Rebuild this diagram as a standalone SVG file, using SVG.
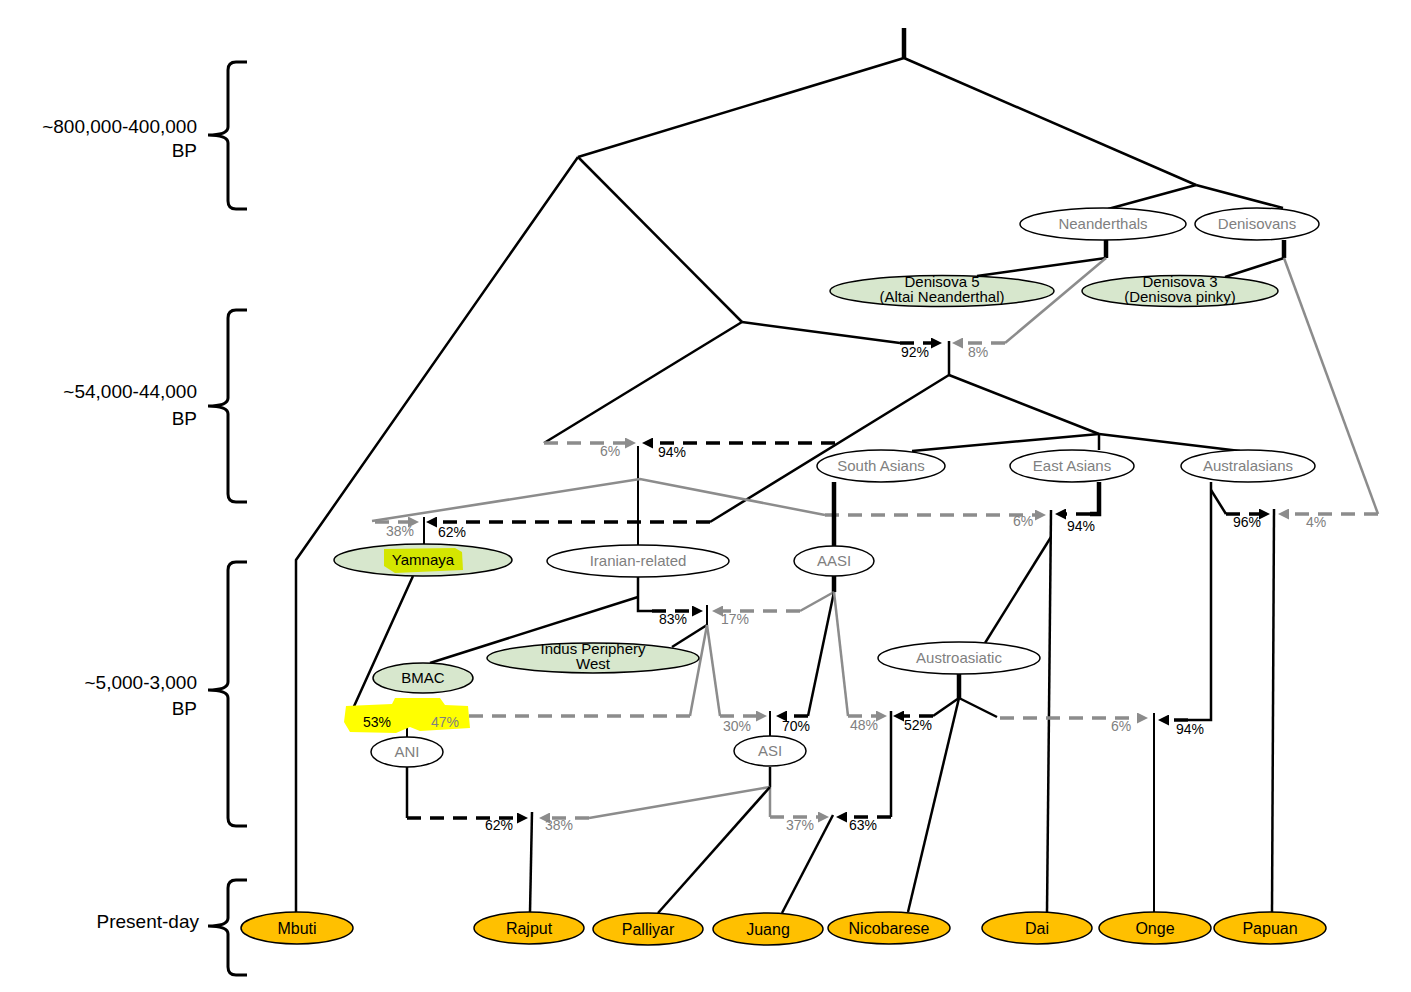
<svg xmlns="http://www.w3.org/2000/svg" width="1411" height="992" viewBox="0 0 1411 992">
<style>
.t{stroke:#000;stroke-width:2.5;fill:none}
.tk{stroke:#000;stroke-width:4.5;fill:none}
.tn{stroke:#000;stroke-width:2;fill:none}
.g{stroke:#8c8c8c;stroke-width:2.5;fill:none}
.bd{stroke:#000;stroke-width:3.5;stroke-dasharray:14 9;fill:none;marker-end:url(#ab)}
.gd{stroke:#8c8c8c;stroke-width:3.5;stroke-dasharray:14 9;fill:none;marker-end:url(#ag)}
.br{stroke:#000;stroke-width:3;fill:none}
.ew{fill:#fff;stroke:#000;stroke-width:1.5}
.eg{fill:#d7e7cd;stroke:#000;stroke-width:1.5}
.eo{fill:#ffc000;stroke:#000;stroke-width:1.5}
text{font-family:"Liberation Sans",Arial,sans-serif}
.nw{font-size:15px;fill:#7f7f7f;text-anchor:middle}
.nb{font-size:15px;fill:#000;text-anchor:middle}
.no{font-size:16px;fill:#000;text-anchor:middle}
.pb{font-size:14px;fill:#000;text-anchor:middle}
.pg{font-size:14px;fill:#808080;text-anchor:middle}
.tl{font-size:19px;fill:#000;text-anchor:end}
</style>
<defs>
<marker id="ab" viewBox="0 0 11 11" refX="1" refY="5.5" markerWidth="11" markerHeight="11" markerUnits="userSpaceOnUse" orient="auto"><path d="M0,0 L11,5.5 L0,11 z" fill="#000"/></marker>
<marker id="ag" viewBox="0 0 11 11" refX="1" refY="5.5" markerWidth="11" markerHeight="11" markerUnits="userSpaceOnUse" orient="auto"><path d="M0,0 L11,5.5 L0,11 z" fill="#8c8c8c"/></marker>
</defs>
<rect width="1411" height="992" fill="#fff"/>

<g id="timeline">
<path class="br" d="M247,62 H236 Q228,62 228,70 V127 Q228,135 208,135 Q228,135 228,143 V201 Q228,209 236,209 H247"/>
<path class="br" d="M247,310 H236 Q228,310 228,318 V398 Q228,406 208,406 Q228,406 228,414 V494 Q228,502 236,502 H247"/>
<path class="br" d="M247,562 H236 Q228,562 228,570 V682 Q228,690 208,690 Q228,690 228,698 V818 Q228,826 236,826 H247"/>
<path class="br" d="M247,880 H236 Q228,880 228,888 V918 Q228,926 208,926 Q228,926 228,934 V967 Q228,975 236,975 H247"/>
<text class="tl" x="197" y="133">~800,000-400,000</text>
<text class="tl" x="197" y="157">BP</text>
<text class="tl" x="197" y="398">~54,000-44,000</text>
<text class="tl" x="197" y="425">BP</text>
<text class="tl" x="197" y="689">~5,000-3,000</text>
<text class="tl" x="197" y="715">BP</text>
<text class="tl" x="199" y="928">Present-day</text>
</g>

<g id="connectors">
<path class="tk" d="M904,28 V58"/>
<path class="t" d="M904,58 L578,157"/>
<path class="t" d="M904,58 L1196,185"/>
<path class="t" d="M578,157 L296,560 V912"/>
<path class="t" d="M578,157 L742,322"/>
<path class="t" d="M742,322 L544,443"/>
<path class="t" d="M742,322 L900,343"/>
<path class="t" d="M1196,185 L1108,209"/>
<path class="t" d="M1196,185 L1283,208"/>
<path class="tk" d="M1106,240 V258"/>
<path class="tk" d="M1284,240 V258"/>
<path class="t" d="M1106,258 L977,276"/>
<path class="t" d="M1284,258 L1225,277"/>
<path class="g" d="M1106,258 L1005,343"/>
<path class="g" d="M1284,258 L1378,514"/>
<path class="bd" d="M900,343 H932"/>
<path class="gd" d="M1005,343 H962"/>
<path class="t" d="M949,341 V375"/>
<path class="t" d="M949,375 L1099,434"/>
<path class="t" d="M949,375 L710,522"/>
<path class="t" d="M1099,434 L912,451"/>
<path class="t" d="M1099,434 V450"/>
<path class="t" d="M1099,434 L1240,451"/>
<path class="gd" d="M544,443 H626"/>
<path class="bd" d="M835,443 H652"/>
<path class="tn" d="M638,446 V545"/>
<path class="g" d="M372,521 L640,479 L825,515"/>
<path class="gd" d="M375,522 H409"/>
<path class="bd" d="M710,522 H436"/>
<path class="tn" d="M424,517 V544"/>
<path class="gd" d="M825,515 H1036"/>
<path class="tk" d="M834,482 V546"/>
<path class="tk" d="M1099,482 V514 H1090"/>
<path class="bd" d="M1090,514 H1065"/>
<path class="t" d="M1051,510 L1047,912"/>
<path class="t" d="M1051,537 L985,643"/>
<path class="t" d="M1211,482 V720 H1188"/>
<path class="t" d="M1211,490 L1226,514"/>
<path class="bd" d="M1226,514 H1260"/>
<path class="gd" d="M1378,514 H1288"/>
<path class="t" d="M1274,509 L1272,912"/>
<path class="t" d="M638,577 V611 H652"/>
<path class="bd" d="M652,611 H693"/>
<path class="t" d="M638,597 L430,663"/>
<path class="tn" d="M707,605 V625"/>
<path class="t" d="M707,625 L672,647"/>
<path class="g" d="M707,625 L690,716"/>
<path class="g" d="M707,625 L720,716"/>
<path class="tk" d="M834,576 V592"/>
<path class="g" d="M834,592 L800,611"/>
<path class="gd" d="M800,611 H722"/>
<path class="t" d="M834,592 L808,716"/>
<path class="g" d="M834,592 L848,716"/>
<path class="t" d="M413,576 L351,713 L362,716"/>
<path class="bd" d="M362,716 H392"/>
<path class="gd" d="M690,716 H425"/>
<path class="gd" d="M720,716 H757"/>
<path class="bd" d="M808,716 H786"/>
<path class="gd" d="M848,716 H877"/>
<path class="tn" d="M407,711 V737"/>
<path class="tn" d="M770,711 V736"/>
<path class="tk" d="M959,674 V698"/>
<path class="t" d="M959,698 L933,716"/>
<path class="bd" d="M933,716 H903"/>
<path class="t" d="M959,698 L997,717"/>
<path class="gd" d="M1000,718 H1138"/>
<path class="t" d="M959,698 L908,912"/>
<path class="bd" d="M1188,720 H1168"/>
<path class="tn" d="M1154,713 V912"/>
<path class="t" d="M891,711 V817"/>
<path class="bd" d="M891,817 H846"/>
<path class="t" d="M770,767 V787"/>
<path class="g" d="M770,787 L589,818"/>
<path class="gd" d="M589,818 H549"/>
<path class="g" d="M770,787 V817"/>
<path class="gd" d="M770,817 H819"/>
<path class="t" d="M770,787 L658,913"/>
<path class="t" d="M407,767 V818"/>
<path class="bd" d="M407,818 H518"/>
<path class="t" d="M532,812 L530,912"/>
<path class="t" d="M833,815 L782,913"/>
</g>

<g id="highlights">
<path d="M346,706 L392,704 L395,698 L440,698 L445,705 L468,706 L470,728 L420,731 L410,727 L396,733 L350,732 L344,722 z" fill="#ffff00"/>
</g>

<g id="labels">
<text class="pb" x="915" y="357">92%</text>
<text class="pg" x="978" y="357">8%</text>
<text class="pg" x="610" y="456">6%</text>
<text class="pb" x="672" y="457">94%</text>
<text class="pg" x="400" y="536">38%</text>
<text class="pb" x="452" y="537">62%</text>
<text class="pg" x="1023" y="526">6%</text>
<text class="pb" x="1081" y="531">94%</text>
<text class="pb" x="1247" y="527">96%</text>
<text class="pg" x="1316" y="527">4%</text>
<text class="pb" x="673" y="624">83%</text>
<text class="pg" x="735" y="624">17%</text>
<text class="pb" x="377" y="727">53%</text>
<text class="pg" x="445" y="727">47%</text>
<text class="pg" x="737" y="731">30%</text>
<text class="pb" x="796" y="731">70%</text>
<text class="pg" x="864" y="730">48%</text>
<text class="pb" x="918" y="730">52%</text>
<text class="pg" x="1121" y="731">6%</text>
<text class="pb" x="1190" y="734">94%</text>
<text class="pb" x="499" y="830">62%</text>
<text class="pg" x="559" y="830">38%</text>
<text class="pg" x="800" y="830">37%</text>
<text class="pb" x="863" y="830">63%</text>
</g>

<g id="neanderthals"><ellipse class="ew" cx="1103" cy="224" rx="83" ry="16"/><text class="nw" x="1103" y="229">Neanderthals</text></g>
<g id="denisovans"><ellipse class="ew" cx="1257" cy="224" rx="62" ry="16"/><text class="nw" x="1257" y="229">Denisovans</text></g>
<g id="denisova5"><ellipse class="eg" cx="942" cy="291" rx="112" ry="15.5"/><text class="nb" x="942" y="287">Denisova 5</text><text class="nb" x="942" y="302">(Altai Neanderthal)</text></g>
<g id="denisova3"><ellipse class="eg" cx="1180" cy="291" rx="98" ry="15.5"/><text class="nb" x="1180" y="287">Denisova 3</text><text class="nb" x="1180" y="302">(Denisova pinky)</text></g>
<g id="southasians"><ellipse class="ew" cx="881" cy="466" rx="64" ry="16"/><text class="nw" x="881" y="471">South Asians</text></g>
<g id="eastasians"><ellipse class="ew" cx="1072" cy="466" rx="62" ry="16"/><text class="nw" x="1072" y="471">East Asians</text></g>
<g id="australasians"><ellipse class="ew" cx="1248" cy="466" rx="67" ry="16"/><text class="nw" x="1248" y="471">Australasians</text></g>
<g id="yamnaya"><ellipse class="eg" cx="423" cy="560" rx="89" ry="16"/><path d="M384,549 L455,548 L462,552 L463,570 L395,573 L384,566 z" fill="#d4e600"/><text class="nb" x="423" y="565">Yamnaya</text></g>
<g id="iranian"><ellipse class="ew" cx="638" cy="561" rx="91" ry="16"/><text class="nw" x="638" y="566">Iranian-related</text></g>
<g id="aasi"><ellipse class="ew" cx="834" cy="561" rx="40" ry="15"/><text class="nw" x="834" y="566">AASI</text></g>
<g id="indus"><ellipse class="eg" cx="593" cy="658" rx="106" ry="15"/><text class="nb" x="593" y="654">Indus Periphery</text><text class="nb" x="593" y="669">West</text></g>
<g id="bmac"><ellipse class="eg" cx="423" cy="678" rx="50" ry="15"/><text class="nb" x="423" y="683">BMAC</text></g>
<g id="austroasiatic"><ellipse class="ew" cx="959" cy="658" rx="81" ry="16"/><text class="nw" x="959" y="663">Austroasiatic</text></g>
<g id="ani"><ellipse class="ew" cx="407" cy="752" rx="36" ry="15"/><text class="nw" x="407" y="757">ANI</text></g>
<g id="asi"><ellipse class="ew" cx="770" cy="751" rx="36" ry="15"/><text class="nw" x="770" y="756">ASI</text></g>
<g id="mbuti"><ellipse class="eo" cx="297" cy="928" rx="56" ry="16"/><text class="no" x="297" y="934">Mbuti</text></g>
<g id="rajput"><ellipse class="eo" cx="529" cy="928" rx="55" ry="16"/><text class="no" x="529" y="934">Rajput</text></g>
<g id="palliyar"><ellipse class="eo" cx="648" cy="929" rx="55" ry="16"/><text class="no" x="648" y="935">Palliyar</text></g>
<g id="juang"><ellipse class="eo" cx="768" cy="929" rx="55" ry="16"/><text class="no" x="768" y="935">Juang</text></g>
<g id="nicobarese"><ellipse class="eo" cx="889" cy="928" rx="61" ry="16"/><text class="no" x="889" y="934">Nicobarese</text></g>
<g id="dai"><ellipse class="eo" cx="1037" cy="928" rx="55" ry="16"/><text class="no" x="1037" y="934">Dai</text></g>
<g id="onge"><ellipse class="eo" cx="1155" cy="928" rx="56" ry="16"/><text class="no" x="1155" y="934">Onge</text></g>
<g id="papuan"><ellipse class="eo" cx="1270" cy="928" rx="56" ry="16"/><text class="no" x="1270" y="934">Papuan</text></g>
</svg>
